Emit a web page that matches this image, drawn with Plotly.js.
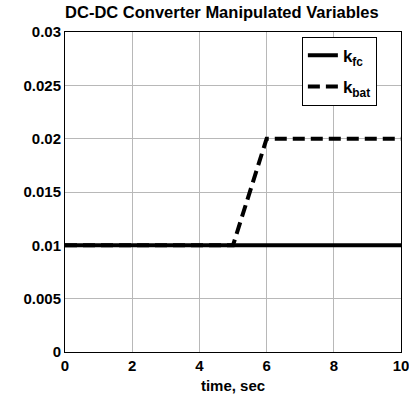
<!DOCTYPE html>
<html>
<head>
<meta charset="utf-8">
<script src="https://cdn.plot.ly/plotly-3.0.1.min.js"></script>
<style>html,body{margin:0;padding:0;background:#fff;}#chart{width:409px;height:401px;}</style>
</head>
<body>
<div id="chart"></div>
<script>
const timeFc = [0, 10];
const kFc = [0.01, 0.01];
const timeBat = [0, 5, 6, 10];
const kBat = [0.01, 0.01, 0.02, 0.02];
const xTicks = [0, 2, 4, 6, 8, 10];
const yTicks = [0, 0.005, 0.01, 0.015, 0.02, 0.025, 0.03];
const yTickLabels = ['0', '0.005', '0.01', '0.015', '0.02', '0.025', '0.03'];

const fam = 'Liberation Sans, Arial, sans-serif';

const traces = [
  {x: timeFc, y: kFc, mode: 'lines', name: 'k<sub>fc</sub>', legendgroup: 'a', line: {color: '#000', width: 4}},
  {x: timeBat, y: kBat, mode: 'lines', name: 'k<sub>bat</sub>', legendgroup: 'b', line: {color: '#000', width: 4, dash: '12px,6px'}}
];

const layout = {
  width: 409, height: 401,
  margin: {l: 65, r: 8, t: 32, b: 49},
  paper_bgcolor: '#fff', plot_bgcolor: '#fff',
  font: {family: fam, size: 14, color: '#000', weight: 'bold'},
  title: {text: 'DC-DC Converter Manipulated Variables', font: {family: fam, size: 16.5, color: '#000', weight: 'bold'}, x: 0.467, xref: 'paper', xanchor: 'center', y: 0.985, yanchor: 'top'},
  xaxis: {
    range: [0, 10], tickvals: xTicks, showgrid: true, gridcolor: '#b8b8b8', gridwidth: 1,
    showline: true, linecolor: '#000', linewidth: 1, mirror: true, zeroline: false,
    ticks: '', ticklabeloverflow: 'allow', automargin: false,
    tickfont: {family: fam, size: 15, color: '#000', weight: 'bold'},
    title: {text: 'time, sec', font: {family: fam, size: 15, color: '#000', weight: 'bold'}, standoff: 7}
  },
  yaxis: {
    range: [0, 0.03], tickvals: yTicks, ticktext: yTickLabels, showgrid: true, gridcolor: '#b8b8b8', gridwidth: 1,
    showline: true, linecolor: '#000', linewidth: 1, mirror: true, zeroline: false,
    ticks: '', tickfont: {family: fam, size: 15, color: '#000', weight: 'bold'}
  },
  showlegend: true,
  legend: {
    x: 0.705, y: 0.985, xanchor: 'left', yanchor: 'top',
    bgcolor: '#fff', bordercolor: '#000', borderwidth: 1,
    font: {family: fam, size: 17, color: '#000', weight: 'bold'},
    tracegroupgap: 6
  }
};

Plotly.newPlot('chart', traces, layout, {displayModeBar: false, staticPlot: true});
</script>
</body>
</html>
